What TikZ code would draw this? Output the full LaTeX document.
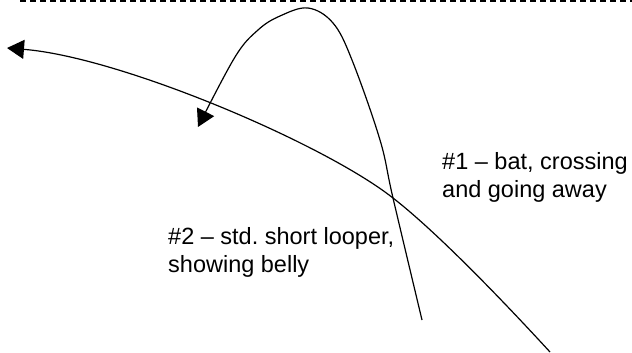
\documentclass[tikz,border=0pt]{standalone}
\usepackage{fontspec}
\setmainfont{Liberation Sans}
\usetikzlibrary{arrows.meta}
\frenchspacing
\begin{document}
\begin{tikzpicture}[x=1pt,y=-1pt,
  curve/.style={line width=1.2pt, line join=round},
  bigtip/.style={-{Triangle[length=17pt,width=19pt]}},
  lbl/.style={anchor=base west, align=left, inner sep=0pt,
    font=\fontsize{23.5}{27.5}\selectfont}]
\useasboundingbox (0,0) rectangle (632,353);
% dashed top line
\coordinate (dl) at (20,1);
\coordinate (dr) at (632,1);
\draw[line width=1.1pt, dash pattern=on 6pt off 4pt] (dl) -- (dr);
% bat: crossing and going away
\coordinate (batend) at (550,352);
\coordinate (batx) at (393,198);
\coordinate (battip) at (7,48);
\draw[curve,bigtip] (batend) .. controls (505,303) and (438,233) .. (batx)
  .. controls (323,143) and (120,57) .. (battip);
% looper
\draw[curve,bigtip] plot[smooth,tension=0.6] coordinates
  {(422,320) (393,198) (380,140) (352,60) (333,23) (308,8) (280,16) (258,30) (235,57) (198,127)};
% labels
\node[lbl] (l1) at (442,197) {\#1 – bat, crossing\\and going away};
\node[lbl] (l2) at (168,272) {\#2 – std. short looper,\\showing belly};
\end{tikzpicture}
\end{document}
